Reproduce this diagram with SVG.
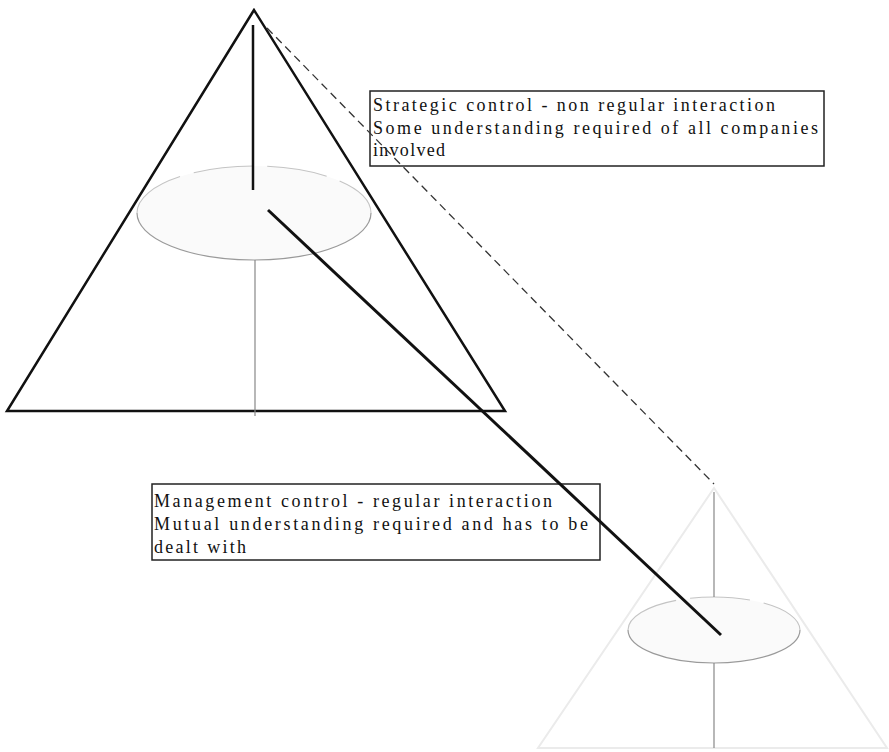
<svg xmlns="http://www.w3.org/2000/svg" width="889" height="752" viewBox="0 0 889 752">
<style>
.tri{fill:none;stroke:#111;stroke-width:2.5;stroke-linejoin:miter}
.ghost{fill:none;stroke:#ebebeb;stroke-width:2}
.axis{stroke:#888;stroke-width:1.2}
.axisb{stroke:#111;stroke-width:2.5}
.efill{fill:#fafafa;stroke:none}
.etop{fill:none;stroke:#c4c4c4;stroke-width:1.1;stroke-dasharray:60 14}
.ebot{fill:none;stroke:#9a9a9a;stroke-width:1.2}
.box{fill:#fff;stroke:#222;stroke-width:1.5}
.lbl{font-family:"Liberation Serif","Times New Roman",serif;font-size:18px;fill:#111}
.conn{fill:none;stroke:#111;stroke-width:3}
.dash{fill:none;stroke:#333;stroke-width:1.3;stroke-dasharray:8 5}
</style>
<g id="pyramid-upper">
<polygon class="tri" points="254,10 7,411 505,411"/>
<ellipse class="efill" cx="254" cy="213" rx="117" ry="47"/>
<path class="etop" d="M137,213 A117,47 0 0 1 371,213"/>
<path class="ebot" d="M371,213 A117,47 0 0 1 137,213"/>
<line class="axisb" x1="253" y1="25" x2="253" y2="190"/>
<line class="axis" x1="255" y1="260" x2="255" y2="416"/>
</g>
<g id="pyramid-lower">
<polygon class="ghost" points="714,488 538,748 887,748"/>
<ellipse class="efill" cx="714" cy="630" rx="86" ry="33"/>
<path class="etop" d="M628,630 A86,33 0 0 1 800,630"/>
<path class="ebot" d="M800,630 A86,33 0 0 1 628,630"/>
<line class="axis" x1="714" y1="492" x2="714" y2="597"/>
<line class="axis" x1="714" y1="663" x2="714" y2="748"/>
</g>
<g id="label-strategic">
<rect class="box" x="370" y="91" width="454" height="75"/>
<text class="lbl" x="373" y="111" textLength="402">Strategic control - non regular interaction</text>
<text class="lbl" x="373" y="133.5" textLength="445">Some understanding required of all companies</text>
<text class="lbl" x="373" y="156" textLength="72">involved</text>
</g>
<g id="label-management">
<rect class="box" x="152" y="484" width="448" height="76"/>
<text class="lbl" x="154" y="507" textLength="398">Management control - regular interaction</text>
<text class="lbl" x="154" y="530" textLength="434">Mutual understanding required and has to be</text>
<text class="lbl" x="154" y="553" textLength="92">dealt with</text>
</g>
<g id="connectors">
<line class="dash" x1="267" y1="28" x2="714" y2="484"/>
<line class="conn" x1="268" y1="210" x2="721" y2="635"/>
</g>
</svg>
